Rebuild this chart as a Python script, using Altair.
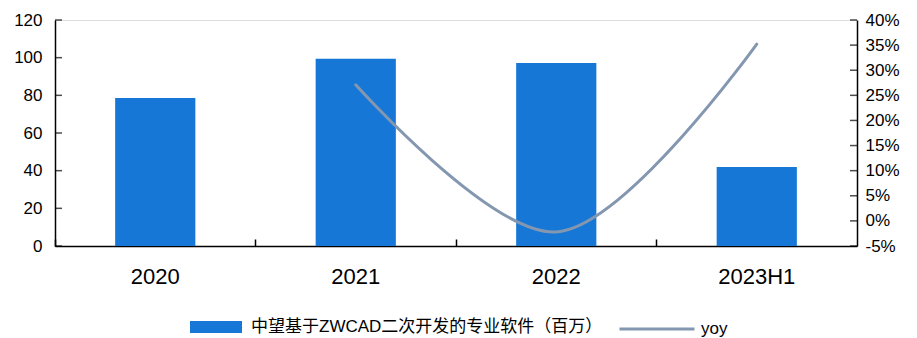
import altair as alt
import pandas as pd

periods = ["2020", "2021", "2022", "2023H1"]
revenue = [78.6, 99.4, 97.2, 41.9]
yoy = [None, 0.271, -0.022, 0.352]
bar_name = "中望基于ZWCAD二次开发的专业软件（百万）"
line_name = "yoy"
left_ticks = [0, 20, 40, 60, 80, 100, 120]
right_ticks = [-0.05, 0.0, 0.05, 0.10, 0.15, 0.20, 0.25, 0.30, 0.35, 0.40]

BLUE = "#1777D6"
GRAY = "#8497B0"
FONT = "Liberation Sans"
CJK = "Liberation Sans, Noto Sans CJK SC"
AXW = 1.5

df = pd.DataFrame({
    "period": periods,
    "revenue": revenue,
    "yoy": yoy,
    "s1": [bar_name] * len(periods),
    "s2": [line_name] * len(periods),
})
lt = pd.DataFrame({"v": left_ticks})
rt = pd.DataFrame({"v": right_ticks})

xscale = alt.Scale(paddingInner=0.6, paddingOuter=0.3)
yl_scale = alt.Scale(domain=[0, 120], nice=False)
yr_scale = alt.Scale(domain=[-0.05, 0.40], nice=False)

base = alt.Chart(df)

bars = base.mark_bar(color=BLUE).encode(
    x=alt.X("period:N", sort=periods, scale=xscale,
            axis=alt.Axis(title=None, labelAngle=0, ticks=False, domainColor="#000",
                          domainWidth=AXW, labelFontSize=22, labelFont=FONT,
                          labelColor="#000", labelPadding=20, orient="bottom")),
    y=alt.Y("revenue:Q", scale=yl_scale,
            axis=alt.Axis(title=None, values=left_ticks, ticks=False, grid=False,
                          domainColor="#000", domainWidth=AXW, labelFontSize=17,
                          labelFont=FONT, labelColor="#000", labelPadding=13,
                          orient="left")),
    fill=alt.Fill("s1:N", scale=alt.Scale(range=[BLUE]),
                  legend=alt.Legend(title=None, orient="none", legendX=135, legendY=281,
                                    symbolType="M-1,-0.23H1V0.23H-1Z", symbolSize=2704,
                                    symbolStrokeWidth=0, symbolFillColor=BLUE,
                                    labelFont=CJK, labelFontSize=17, labelLimit=0,
                                    labelColor="#000", labelOffset=9, padding=0)),
)

bar_ticks = base.mark_bar(opacity=0).encode(
    x=alt.X("period:N", sort=periods, scale=xscale,
            axis=alt.Axis(title=None, orient="top", offset=-226, tickSize=7, labels=False,
                          domain=False, bandPosition=-0.75, tickColor="#000",
                          tickWidth=AXW, grid=False)),
    y=alt.Y("revenue:Q", scale=yl_scale, axis=None),
)

left_tick_marks = alt.Chart(lt).mark_tick(
    orient="horizontal", size=7, thickness=AXW, color="#000"
).encode(
    y=alt.Y("v:Q", scale=yl_scale, axis=None),
    x=alt.value(3.5),
)

line = base.mark_line(strokeWidth=3, interpolate="catmull-rom", strokeCap="round").encode(
    x=alt.X("period:N", sort=periods, scale=xscale, axis=None),
    y=alt.Y("yoy:Q", scale=yr_scale,
            axis=alt.Axis(title=None, orient="right", values=right_ticks, ticks=False,
                          grid=False, domainColor="#000", domainWidth=AXW,
                          labelFontSize=17, labelFont=FONT,
                          labelColor="#000", labelPadding=8,
                          labelExpr="replace(format(datum.value, '.0%'), '\u2212', '-')")),
    stroke=alt.Stroke("s2:N", scale=alt.Scale(range=[GRAY]),
                      legend=alt.Legend(title=None, orient="none", legendX=563, legendY=270,
                                        symbolType="stroke", symbolSize=5625,
                                        symbolStrokeWidth=3, symbolStrokeColor=GRAY,
                                        labelFont=CJK, labelFontSize=17, labelLimit=0,
                                        labelColor="#000", labelOffset=5, padding=0)),
)

right_tick_marks = alt.Chart(rt).mark_tick(
    orient="horizontal", size=7, thickness=AXW, color="#000"
).encode(
    y=alt.Y("v:Q", scale=yr_scale, axis=None),
    x=alt.value(802 - 3.5),
)

chart = alt.layer(bars, bar_ticks, left_tick_marks, line, right_tick_marks).resolve_scale(
    y="independent"
).resolve_axis(x="independent").properties(
    width=802, height=226,
    autosize=alt.AutoSizeParams(type="none"),
    padding={"left": 55, "top": 20, "right": 60, "bottom": 92},
).configure_view(strokeWidth=0, stroke="transparent").configure(background="white")

chart.save("out.html", embed_options={"renderer": "svg", "actions": False})
